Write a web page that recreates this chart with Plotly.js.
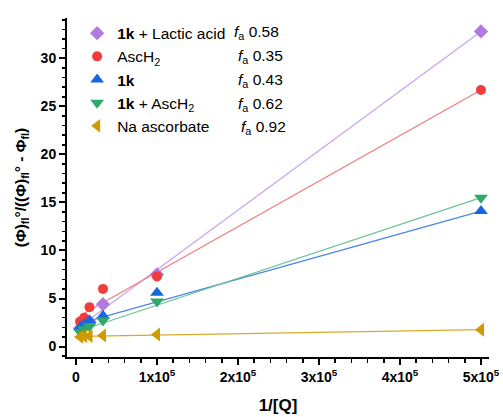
<!DOCTYPE html>
<html>
<head>
<meta charset="utf-8">
<script src="https://cdn.plot.ly/plotly-3.0.1.min.js"></script>
<style>html,body{margin:0;padding:0;background:#fff;}#chart{width:503px;height:417px;}</style>
</head>
<body>
<div id="chart"></div>
<script>
// ---- data ----
const xInvQ = [5000, 10000, 16667, 33333, 100000, 500000];
const seriesNames = ["<b>1k</b> + Lactic acid", "AscH<sub>2</sub>", "<b>1k</b>", "<b>1k</b> + AscH<sub>2</sub>", "Na ascorbate"];
const faLabels = ["0.58", "0.35", "0.43", "0.62", "0.92"];
const yLactic = [1.9, 2.2, 2.6, 4.4, 7.5, 32.8];
const yAscH2 = [2.6, 3.0, 4.1, 6.0, 7.3, 26.7];
const y1k = [2.0, 2.3, 2.7, 3.2, 5.6, 14.1];
const y1kAscH2 = [1.5, 1.8, 2.1, 2.7, 4.7, 15.5];
const yNaAsc = [1.0, 1.05, 1.08, 1.15, 1.25, 1.75];
const fitIntercept = [1.8, 3.0, 2.3, 1.5, 1.05];
const fitSlope = [6.2e-5, 4.74e-5, 2.36e-5, 2.8e-5, 1.4e-6];
const xTickVals = [0, 100000, 200000, 300000, 400000, 500000];
const xTickText = ["0", "1x10<sup>5</sup>", "2x10<sup>5</sup>", "3x10<sup>5</sup>", "4x10<sup>5</sup>", "5x10<sup>5</sup>"];

// ---- styles ----
const allY = [yLactic, yAscH2, y1k, y1kAscH2, yNaAsc];
const markerColors = ["#b07be0", "#f03c3c", "#1a66e0", "#2fa86a", "#d09a00"];
const lineColors = ["#c9a3ef", "#f47a7a", "#4a86e6", "#6cc497", "#d8aa2a"];
const symbols = ["diamond", "circle", "triangle-up", "triangle-down", "triangle-left"];
const sizes = [11, 10, 12, 12, 12];
const FONT = "'Liberation Sans', Arial, sans-serif";

const traces = [];
allY.forEach((ys, i) => {
  const x0 = xInvQ[0], x1 = xInvQ[xInvQ.length - 1];
  traces.push({
    x: [x0, x1],
    y: [fitIntercept[i] + fitSlope[i] * x0, fitIntercept[i] + fitSlope[i] * x1],
    mode: "lines", line: {color: lineColors[i], width: 1.2},
    showlegend: false, hoverinfo: "skip", legendgroup: "g" + i
  });
});
allY.forEach((ys, i) => {
  traces.push({
    x: xInvQ, y: ys, name: seriesNames[i], mode: "markers",
    marker: {symbol: symbols[i], size: sizes[i], color: markerColors[i]},
    legendgroup: "g" + i
  });
});

const L = 67, R = 489, T = 18, B = 357;
const W = 503, H = 417;
const rowY = [33, 57, 80, 104, 127];
const faX = [232, 236, 236, 236, 239];
const annotations = faLabels.map((t, i) => ({
  xref: "paper", yref: "paper",
  x: (faX[i] - L) / (R - L), y: (B - rowY[i]) / (B - T),
  xanchor: "left", yanchor: "middle", showarrow: false,
  text: "<i>f</i><sub>a</sub> " + t,
  font: {family: FONT, size: 15.5, color: "#000"}
}));

const layout = {
  width: W, height: H,
  margin: {l: L, r: W - R, t: T, b: H - B},
  paper_bgcolor: "#fff", plot_bgcolor: "#fff",
  font: {family: FONT, color: "#000"},
  showlegend: true,
  legend: {
    x: 0.024, y: 1.004, xanchor: "left", yanchor: "top",
    bgcolor: "rgba(0,0,0,0)", font: {family: FONT, size: 15.5, color: "#000"},
    traceorder: "grouped", tracegroupgap: 0
  },
  xaxis: {
    range: [-11100, 509900], showgrid: false, zeroline: false,
    showline: true, linecolor: "#000", linewidth: 2,
    ticks: "outside", ticklen: 6, tickwidth: 2, tickcolor: "#000",
    tickvals: xTickVals, ticktext: xTickText,
    tickfont: {family: FONT, size: 14, weight: "bold", color: "#000"},
    minor: {dtick: 20000, ticks: "outside", ticklen: 3.5, tickwidth: 1.5, tickcolor: "#000", showgrid: false},
    title: {text: "<b>1/[Q]</b>", font: {family: FONT, size: 17, color: "#000"}, standoff: 15}
  },
  yaxis: {
    range: [-1.09, 34.2], showgrid: false, zeroline: false,
    showline: true, linecolor: "#000", linewidth: 2,
    ticks: "outside", ticklen: 6, tickwidth: 2, tickcolor: "#000",
    tickvals: [0, 5, 10, 15, 20, 25, 30],
    tickfont: {family: FONT, size: 14, weight: "bold", color: "#000"},
    minor: {dtick: 1, ticks: "outside", ticklen: 3.5, tickwidth: 1.5, tickcolor: "#000", showgrid: false},
    title: {text: "<b>(Φ)<sub>fl</sub>°/((Φ)<sub>fl</sub>° - Φ<sub>fl</sub>)</b>", font: {family: FONT, size: 15.5, color: "#000"}, standoff: 10}
  },
  annotations: annotations
};

Plotly.newPlot("chart", traces, layout, {displayModeBar: false, staticPlot: true});
</script>
</body>
</html>
